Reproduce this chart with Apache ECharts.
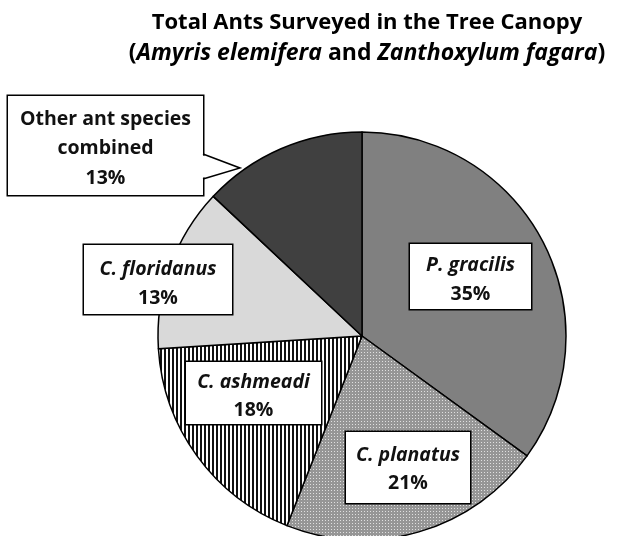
<!DOCTYPE html>
<html>
<head>
<meta charset="utf-8">
<script src="https://cdn.jsdelivr.net/npm/echarts@6/dist/echarts.min.js"></script>
<style>
  html, body { margin: 0; padding: 0; background: #fff; }
  #chart { width: 622px; height: 536px; }
</style>
</head>
<body>
<div id="chart"></div>
<script>
// Share of ants surveyed in the canopy, by species (percent)
const speciesNames = ['P. gracilis', 'C. planatus', 'C. ashmeadi', 'C. floridanus', 'Other ant species combined'];
const speciesShares = [35, 21, 18, 13, 13];
const italicNames = [true, true, true, true, false];

const FONT = '"Open Sans"';

// Fill patterns
function stripes() {
  const c = document.createElement('canvas');
  c.width = 4; c.height = 4;
  const g = c.getContext('2d');
  g.fillStyle = '#ffffff'; g.fillRect(0, 0, 4, 4);
  g.fillStyle = '#111111'; g.fillRect(0, 0, 2, 4);
  return c;
}
function dots() {
  const c = document.createElement('canvas');
  c.width = 3; c.height = 3;
  const g = c.getContext('2d');
  g.fillStyle = '#969696'; g.fillRect(0, 0, 3, 3);
  g.fillStyle = '#e0e0e0'; g.fillRect(1, 1, 1, 1);
  return c;
}

const sliceFills = [
  '#808080',
  { image: dots(), repeat: 'repeat' },
  { image: stripes(), repeat: 'repeat' },
  '#d9d9d9',
  '#404040'
];

// Label boxes: centre, width, line height and top/bottom padding
const labelBoxes = [
  { cx: 470.5, cy: 276.5, w: 121, lh: 29,   pt: 6.5, pb: 0.5 },
  { cx: 408,   cy: 467.5, w: 124, lh: 28.5, pt: 9,   pb: 5 },
  { cx: 253.5, cy: 393,   w: 135, lh: 28,   pt: 6,   pb: 0 },
  { cx: 158,   cy: 279.5, w: 148, lh: 29,   pt: 9.5, pb: 1.5 },
  { cx: 105.5, cy: 145.5, w: 195, lh: 29.5, pt: 8.5, pb: 2 }
];

function richFor(lh) {
  return {
    b: { fontFamily: FONT, fontWeight: 'bold', fontSize: 19.5, color: '#111', lineHeight: lh, align: 'center' },
    i: { fontFamily: FONT, fontWeight: 'bold', fontStyle: 'italic', fontSize: 19.5, color: '#111', lineHeight: lh, align: 'center' }
  };
}

const data = speciesNames.map(function (name, i) {
  const b = labelBoxes[i];
  const nameText = i === 4 ? '{b|Other ant species}\n{b|combined}' : (italicNames[i] ? '{i|' + name + '}' : '{b|' + name + '}');
  return {
    name: name,
    value: speciesShares[i],
    itemStyle: { color: sliceFills[i] },
    label: {
      formatter: nameText + '\n{b|' + speciesShares[i] + '%}',
      width: b.w,
      padding: [b.pt, 0, b.pb, 0],
      rich: richFor(b.lh)
    }
  };
});

const chart = echarts.init(document.getElementById('chart'), null, { renderer: 'canvas' });

chart.setOption({
  animation: false,
  backgroundColor: '#ffffff',
  title: {
    left: 362,
    top: 3,
    textAlign: 'center',
    text: '{t|Total Ants Surveyed in the Tree Canopy}\n{s|(}{si|Amyris elemifera}{s| and }{si|Zanthoxylum fagara}{s|)}',
    textStyle: {
      rich: {
        t:  { fontFamily: FONT, fontWeight: 'bold', fontSize: 22, color: '#000', lineHeight: 30 },
        s:  { fontFamily: FONT, fontWeight: 'bold', fontSize: 23, color: '#000', lineHeight: 30 },
        si: { fontFamily: FONT, fontWeight: 'bold', fontStyle: 'italic', fontSize: 23, color: '#000', lineHeight: 30 }
      }
    }
  },
  series: [{
    type: 'pie',
    center: [362, 336],
    radius: 204,
    startAngle: 90,
    clockwise: true,
    silent: true,
    emphasis: { disabled: true },
    itemStyle: { borderColor: '#000', borderWidth: 1.5 },
    labelLine: { show: false },
    label: {
      show: true,
      position: 'inside',
      backgroundColor: '#ffffff',
      borderColor: '#000000',
      borderWidth: 1.5,
      align: 'center'
    },
    labelLayout: function (p) {
      const b = labelBoxes[p.dataIndex];
      return { x: b.cx, y: b.cy, align: 'center', verticalAlign: 'middle' };
    },
    data: data
  }],
  graphic: [
    // callout pointer from the "Other" label towards its slice
    {
      type: 'polygon', z: 100,
      shape: { points: [[201.5, 155], [240, 168], [201.5, 178]] },
      style: { fill: '#ffffff', stroke: null }
    },
    {
      type: 'polyline', z: 101,
      shape: { points: [[203, 154], [240, 168], [203, 179]] },
      style: { stroke: '#000000', lineWidth: 1.5, fill: null }
    }
  ]
});
</script>
</body>
</html>
